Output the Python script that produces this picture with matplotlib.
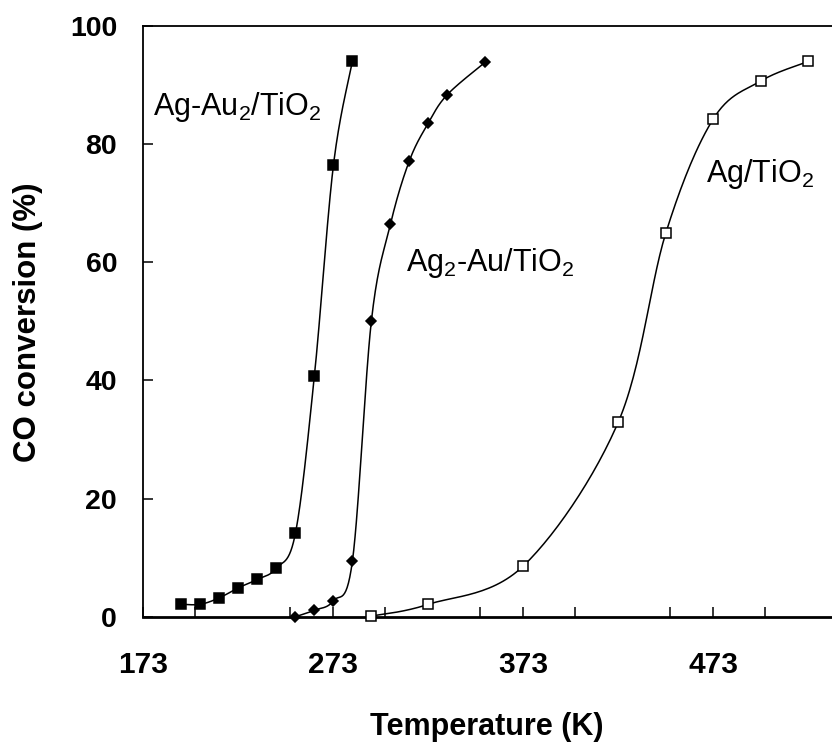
import matplotlib
matplotlib.use("Agg")
import matplotlib.pyplot as plt
from matplotlib.ticker import MultipleLocator, FixedLocator
import numpy as np

# Data
temp_au2 = [193, 203, 213, 223, 233, 243, 253, 263, 273, 283]
conv_au2 = [2.1, 2.1, 3.2, 4.9, 6.3, 8.2, 14.1, 40.8, 76.4, 94.0]

temp_ag2 = [253, 263, 273, 283, 293, 303, 313, 323, 333, 353]
conv_ag2 = [0.0, 1.1, 2.7, 9.4, 50.1, 66.4, 77.2, 83.6, 88.4, 93.9]

temp_ag = [293, 323, 373, 423, 448, 473, 498, 523]
conv_ag = [0.1, 2.1, 8.6, 33.0, 65.0, 84.3, 90.7, 94.0]

x_major = [173, 273, 373, 473]
y_major = [0, 20, 40, 60, 80, 100]

plt.rcParams['font.family'] = ['Liberation Sans', 'DejaVu Sans']
plt.rcParams['mathtext.default'] = 'regular'


def smooth(x, y, n=30):
    """Excel-like smoothed line (uniform Catmull-Rom through the points)."""
    p = np.column_stack([x, y]).astype(float)
    p = np.vstack([p[0], p, p[-1]])
    out = []
    t = np.linspace(0, 1, n)[:, None]
    for i in range(1, len(p) - 2):
        p0, p1, p2, p3 = p[i - 1], p[i], p[i + 1], p[i + 2]
        c1 = p1 + (p2 - p0) / 6
        c2 = p2 - (p3 - p1) / 6
        seg = ((1 - t) ** 3) * p1 + 3 * ((1 - t) ** 2) * t * c1 + 3 * (1 - t) * t ** 2 * c2 + t ** 3 * p2
        out.append(seg if i == 1 else seg[1:])
    seg = np.vstack(out)
    return seg[:, 0], seg[:, 1]


fig = plt.figure(figsize=(8.32, 7.43), dpi=100)
ax = fig.add_axes([143.4 / 832, 1 - 616.7 / 743, 1 - 143.4 / 832, (616.7 - 26) / 743])

for xs, ys, mk, ms, fc in [(temp_au2, conv_au2, 's', 7.6, 'black'),
                           (temp_ag2, conv_ag2, 'D', 5.6, 'black'),
                           (temp_ag, conv_ag, 's', 6.9, 'white')]:
    sx, sy = smooth(xs, ys)
    ax.plot(sx, sy, color='black', lw=1.1, zorder=2, clip_on=False)
    ax.plot(xs, ys, ls='none', marker=mk, ms=ms, mfc=fc, mec='black', mew=1.1,
            zorder=3, clip_on=False)

ax.set_xlim(173, 173 + (832 - 143.4) / 1.9)
ax.set_ylim(0, 100)
ax.xaxis.set_major_locator(FixedLocator(x_major))
ax.xaxis.set_minor_locator(MultipleLocator(50))
ax.yaxis.set_major_locator(FixedLocator(y_major))
ax.tick_params(axis='both', which='both', direction='in', length=7, width=1.1, color='black')
ax.tick_params(axis='y', pad=19, labelsize=20.5)
ax.tick_params(axis='x', pad=25, labelsize=21.5)
for lab in ax.get_yticklabels() + ax.get_xticklabels():
    lab.set_fontweight('bold')

ax.spines['right'].set_visible(False)
ax.spines['left'].set_linewidth(1.3)
ax.spines['top'].set_linewidth(1.3)
ax.spines['bottom'].set_linewidth(2.0)

fig.text(370 / 832, 1 - 735 / 743, 'Temperature (K)', ha='left', va='baseline',
         fontsize=22, fontweight='bold')
fig.text(28.5 / 832, 1 - 322 / 743, 'CO conversion (%)', ha='center', va='center',
         rotation=90, fontsize=22.5, fontweight='bold')

ax.text(177.9, 84.9, 'Ag-Au$_2$/TiO$_2$', fontsize=22, ha='left', va='baseline')
ax.text(311.2, 58.5, 'Ag$_2$-Au/TiO$_2$', fontsize=22, ha='left', va='baseline')
ax.text(469.1, 73.6, 'Ag/TiO$_2$', fontsize=22, ha='left', va='baseline')

fig.savefig('out.png', dpi=100)
